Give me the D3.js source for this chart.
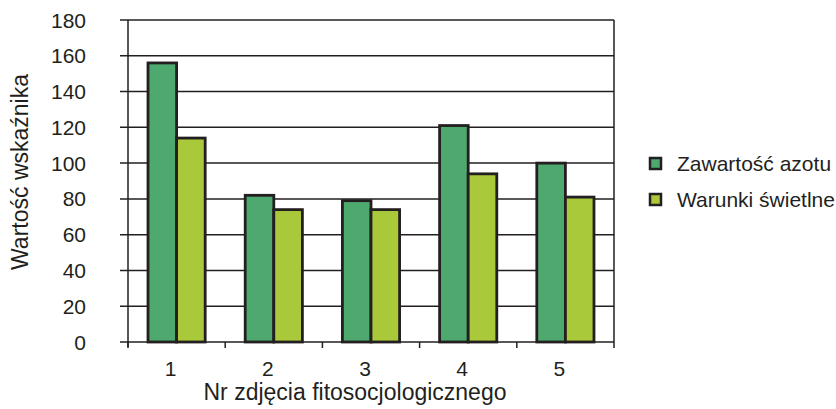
<!DOCTYPE html>
<html><head><meta charset="utf-8">
<script src="https://cdn.jsdelivr.net/npm/d3@7"></script>
<style>body{margin:0;background:#fff}svg{display:block}text{font-family:"Liberation Sans",Arial,sans-serif;fill:#231f20}</style>
</head><body>
<script>
const categories = ["1","2","3","4","5"];
const seriesNames = ["Zawartość azotu","Warunki świetlne"];
const azot = [156, 82, 79, 121, 100];
const swiatlo = [114, 74, 74, 94, 81];
const yTicks = [0,20,40,60,80,100,120,140,160,180];
const colors = ["#4ea96f","#a9c93b"];

const W=836,H=409;
const svg=d3.select("body").append("svg").attr("width",W).attr("height",H);
const L=128,R=614,T=20,B=342;
const x=d3.scaleBand().domain(categories).range([L,R]);
const xs=d3.scaleBand().domain([0,1]).range([0,x.bandwidth()]).paddingOuter(0.70).paddingInner(0);
const y=d3.scaleLinear().domain([0,180]).range([B,T]);

// gridlines
svg.append("g").selectAll("line").data(yTicks).join("line")
  .attr("x1",L-8).attr("x2",R).attr("y1",d=>y(d)).attr("y2",d=>y(d))
  .attr("stroke","#231f20").attr("stroke-width",1.5);
// right border
svg.append("line").attr("x1",R).attr("x2",R).attr("y1",T).attr("y2",B).attr("stroke","#231f20").attr("stroke-width",1.5);
// left axis line
svg.append("line").attr("x1",L).attr("x2",L).attr("y1",T).attr("y2",B+5).attr("stroke","#231f20").attr("stroke-width",1.5);
// x ticks
const bounds=categories.map(c=>x(c)).concat([R]);
svg.append("g").selectAll("line").data(bounds).join("line")
  .attr("x1",d=>d).attr("x2",d=>d).attr("y1",B).attr("y2",B+6)
  .attr("stroke","#231f20").attr("stroke-width",1.5);

// bars
const data=categories.map((c,i)=>({c,vals:[azot[i],swiatlo[i]]}));
const g=svg.append("g").selectAll("g").data(data).join("g").attr("transform",d=>`translate(${x(d.c)},0)`);
g.selectAll("rect").data(d=>d.vals.map((v,k)=>({v,k}))).join("rect")
  .attr("x",d=>xs(d.k)).attr("width",xs.bandwidth())
  .attr("y",d=>y(d.v)).attr("height",d=>B-y(d.v))
  .attr("fill",d=>colors[d.k]).attr("stroke","#231f20").attr("stroke-width",2.8);

// y labels
svg.append("g").selectAll("text").data(yTicks).join("text")
  .attr("x",86).attr("y",d=>y(d)+7.5).attr("text-anchor","end").attr("font-size",21).text(d=>d);
// x labels
svg.append("g").selectAll("text").data(categories).join("text")
  .attr("x",d=>x(d)+x.bandwidth()/2-6).attr("y",376).attr("text-anchor","middle").attr("font-size",21).text(d=>d);
// axis titles
svg.append("text").attr("x",355).attr("y",400).attr("text-anchor","middle").attr("font-size",23).text("Nr zdjęcia fitosocjologicznego");
svg.append("text").attr("transform","translate(28,172) rotate(-90)").attr("text-anchor","middle").attr("font-size",23).text("Wartość wskaźnika");

// legend
const lg=svg.append("g").selectAll("g").data(seriesNames).join("g").attr("transform",(d,i)=>`translate(650,${158+i*36})`);
lg.append("rect").attr("x",0).attr("y",0).attr("width",11).attr("height",11).attr("fill",(d,i)=>colors[i]).attr("stroke","#231f20").attr("stroke-width",2.5);
lg.append("text").attr("x",27).attr("y",13).attr("font-size",21).text(d=>d);
</script>
</body></html>
